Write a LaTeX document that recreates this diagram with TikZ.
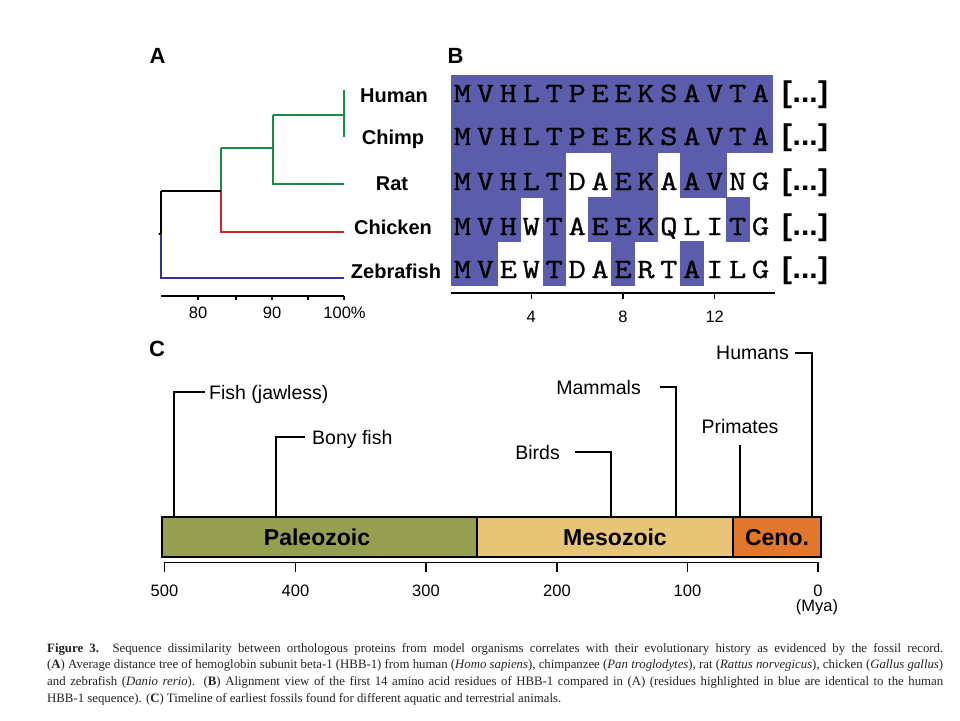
\documentclass[tikz,border=0pt]{standalone}
\usepackage{fontspec}
\setmainfont{Liberation Serif}
\setsansfont{Liberation Sans}
\newfontfamily\seqfont[FakeBold=0.9]{Latin Modern Mono}
\definecolor{alnblue}{RGB}{92,92,172}
\definecolor{treegreen}{RGB}{25,138,70}
\definecolor{treered}{RGB}{205,40,40}
\definecolor{treeblue}{RGB}{50,50,155}
\definecolor{paleo}{RGB}{150,158,80}
\definecolor{meso}{RGB}{232,196,118}
\definecolor{ceno}{RGB}{225,118,45}
\definecolor{captext}{RGB}{35,35,35}
\begin{document}
\begin{tikzpicture}[x=1pt,y=-1pt,
  panellabel/.style={font=\sffamily\bfseries\fontsize{22}{22}\selectfont, inner sep=0pt, anchor=base},
  taxon/.style={font=\sffamily\bfseries\fontsize{20}{20}\selectfont, inner sep=0pt, anchor=base},
  era/.style={font=\sffamily\bfseries\fontsize{23}{23}\selectfont, inner sep=0pt, anchor=base},
  event/.style={font=\sffamily\fontsize{19.5}{20}\selectfont, inner sep=0pt},
  ticklabel/.style={font=\sffamily\fontsize{16.5}{17}\selectfont, inner sep=0pt, anchor=base},
  aa/.style={font=\seqfont\fontsize{28}{28}\selectfont, inner sep=0pt, anchor=base},
  dots/.style={font=\sffamily\bfseries\fontsize{30}{30}\selectfont, inner sep=0pt, anchor=base west},
  captionline/.style={font=\fontsize{12.8}{15}\selectfont, text=captext, inner sep=0pt, anchor=base west},
  branch/.style={line width=2pt},
  axisline/.style={line width=1.8pt, black},
  tline/.style={line width=2.4pt, black},
  cell/.style={fill=alnblue, draw=alnblue, line width=0.4pt},
]
\useasboundingbox (0,0) rectangle (960,720);
\fill[white] (0,0) rectangle (960,720);

% ---------------- Panel labels
\node[panellabel] (labA) at (157.5,63) {A};
\node[panellabel] (labB) at (455.5,63) {B};
\node[panellabel] (labC) at (157,356) {C};

% ---------------- Panel A: tree
\coordinate (hcTop) at (344,90);
\coordinate (hcBot) at (344,137);
\coordinate (hc) at (344,115);
\coordinate (nA) at (273,115);
\coordinate (nAmid) at (273,148);
\coordinate (nAbot) at (273,184);
\coordinate (rat) at (344,184);
\coordinate (nB) at (221,148);
\coordinate (nBmid) at (221,191);
\coordinate (nBbot) at (221,232);
\coordinate (chick) at (344,232);
\coordinate (root) at (161,191);
\coordinate (rootmid) at (161,234);
\coordinate (rootbot) at (161,278);
\coordinate (zebra) at (344,278);

\draw[branch, treegreen] (hcTop) -- (hcBot);
\draw[branch, treegreen] (nA) -- (hc);
\draw[branch, treegreen] (nA) -- (nAbot) -- (rat);
\draw[branch, treegreen] (nB) -- (nAmid);
\draw[branch, treegreen] (nB) -- (nBmid);
\draw[branch, treered] (nBmid) -- (nBbot) -- (chick);
\draw[branch, black] (root) -- (nBmid);
\draw[branch, black] (root) -- (rootmid);
\draw[branch, treeblue] (rootmid) -- (rootbot) -- (zebra);
\fill[black] (rootmid) ++(-1.5,0) circle (1.2pt);

% axis A
\coordinate (axAl) at (161,296);
\coordinate (axAr) at (344,296);
\draw[axisline] (axAl) -- (axAr);
\foreach \xx/\nm in {198/a,236/b,272/c,308/d,344/e}{
  \coordinate (tA\nm) at (\xx,296);
  \draw[axisline, line width=1.3pt] (tA\nm) -- ++(0,4);
}
\node[ticklabel] (tl80) at (198,318) {80};
\node[ticklabel] (tl90) at (272,318) {90};
\node[ticklabel] (tl100) at (344.5,318) {100\%};

% taxa
\node[taxon] (tHuman) at (394,102) {Human};
\node[taxon] (tChimp) at (393,144.5) {Chimp};
\node[taxon] (tRat) at (392,190) {Rat};
\node[taxon] (tChicken) at (393,234.5) {Chicken};
\node[taxon] (tZebra) at (396,278) {Zebrafish};

% ---------------- Panel B: alignment
\def\xo{451}
\def\cw{22.93}
% rows 1-2 full
\fill[cell] (\xo,75) rectangle (\xo+14*\cw,152.3);
% row 3 (152-197)
\foreach \a/\b in {1/5,8/9,11/12}{
  \fill[cell] (\xo+\a*\cw-\cw,151.7) rectangle (\xo+\b*\cw,197.3);
}
% row 4 (197-241)
\foreach \a/\b in {1/3,5/5,7/9,13/13}{
  \fill[cell] (\xo+\a*\cw-\cw,196.7) rectangle (\xo+\b*\cw,241.3);
}
% row 5 (241-285)
\foreach \a/\b in {1/2,5/5,8/8,11/11}{
  \fill[cell] (\xo+\a*\cw-\cw,240.7) rectangle (\xo+\b*\cw,285);
}

\foreach \seq/\yb/\r in {{M,V,H,L,T,P,E,E,K,S,A,V,T,A}/102/1,
                          {M,V,H,L,T,P,E,E,K,S,A,V,T,A}/145/2,
                          {M,V,H,L,T,D,A,E,K,A,A,V,N,G}/190/3,
                          {M,V,H,W,T,A,E,E,K,Q,L,I,T,G}/235/4,
                          {M,V,E,W,T,D,A,E,R,T,A,I,L,G}/278/5}{
  \foreach \ch [count=\c] in \seq {
    \node[aa] (r\r c\c) at (\xo+\c*\cw-0.5*\cw,\yb) {\scalebox{1.2}[1]{\ch}};
  }
  \node[dots] (dots\r) at (782,\yb) {[\kern0.5pt...\kern0.5pt]};
}

% axis B
\coordinate (axBl) at (451,293);
\coordinate (axBr) at (775,293);
\draw[axisline] (axBl) -- (axBr);
\foreach \c in {4,8,12}{
  \coordinate (tB\c) at (\xo+\c*\cw-0.5*\cw,293);
  \draw[axisline, line width=1.3pt] (tB\c) -- ++(0,6);
  \node[ticklabel] (tlB\c) at (\xo+\c*\cw-0.5*\cw,322) {\c};
}

% ---------------- Panel C: timeline
\coordinate (barTL) at (162,516.5);
\coordinate (pm) at (477,516.5);
\coordinate (pmB) at (477,557);
\coordinate (mc) at (733,516.5);
\coordinate (mcB) at (733,557);
\coordinate (barBR) at (821,557);
\fill[paleo] (barTL) rectangle (pmB);
\fill[meso] (pm) rectangle (mcB);
\fill[ceno] (mc) rectangle (barBR);
\draw[line width=2pt] (barTL) rectangle (barBR);
\draw[line width=2pt] (pm) -- (pmB);
\draw[line width=2pt] (mc) -- (mcB);

\node[era] (ePaleo) at (317,545) {Paleozoic};
\node[era] (eMeso) at (615,545) {Mesozoic};
\node[era] (eCeno) at (777,545) {Ceno.};

% axis C
\coordinate (axCl) at (164,562.5);
\coordinate (axCr) at (819,562.5);
\draw[axisline] (axCl) -- (axCr);
\foreach \xx/\lab in {164.5/500,295.5/400,426/300,557/200,687.5/100,818/0}{
  \coordinate (tC\lab) at (\xx,562.5);
  \draw[axisline, line width=1.6pt] (tC\lab) -- ++(0,9);
  \node[ticklabel] (tlC\lab) at (\xx,596) {\lab};
}
\node[ticklabel] (mya) at (817,611.5) {(Mya)};

% events
\coordinate (fishB) at (174,516.5);
\coordinate (fishT) at (174,392);
\coordinate (fishE) at (205,392);
\draw[tline] (fishB) -- (fishT) -- (fishE);
\node[event, anchor=base west] (evFish) at (209,399) {Fish (jawless)};

\coordinate (bonyB) at (276,516.5);
\coordinate (bonyT) at (276,437);
\coordinate (bonyE) at (305,437);
\draw[tline] (bonyB) -- (bonyT) -- (bonyE);
\node[event, anchor=base west] (evBony) at (312,444) {Bony fish};

\coordinate (birdB) at (611,516.5);
\coordinate (birdT) at (611,452);
\coordinate (birdE) at (575,452);
\draw[tline] (birdB) -- (birdT) -- (birdE);
\node[event, anchor=base east] (evBirds) at (560,459) {Birds};

\coordinate (mamB) at (676,516.5);
\coordinate (mamT) at (676,387);
\coordinate (mamE) at (660,387);
\draw[tline] (mamB) -- (mamT) -- (mamE);
\node[event, anchor=base east] (evMam) at (641,394) {Mammals};

\coordinate (priB) at (740,516.5);
\coordinate (priT) at (740,445);
\draw[tline] (priB) -- (priT);
\node[event, anchor=base] (evPri) at (740,433) {Primates};

\coordinate (humB) at (812,516.5);
\coordinate (humT) at (812,353);
\coordinate (humE) at (795,353);
\draw[tline] (humB) -- (humT) -- (humE);
\node[event, anchor=base east] (evHum) at (789,359) {Humans};

% ---------------- Caption
\node[captionline] (cap1) at (47,652) {\makebox[896pt][s]{\textbf{Figure 3.} Sequence dissimilarity between orthologous proteins from model organisms correlates with their evolutionary history as evidenced by the fossil record.}};
\node[captionline] (cap2) at (47,668.8) {\makebox[896pt][s]{(\textbf{A}) Average distance tree of hemoglobin subunit beta-1 (HBB-1) from human (\textit{Homo sapiens}), chimpanzee (\textit{Pan troglodytes}), rat (\textit{Rattus norvegicus}), chicken (\textit{Gallus gallus})}};
\node[captionline] (cap3) at (47,685.6) {\makebox[896pt][s]{and zebrafish (\textit{Danio rerio}). (\textbf{B}) Alignment view of the first 14 amino acid residues of HBB-1 compared in (A) (residues highlighted in blue are identical to the human}};
\node[captionline] (cap4) at (47,702.4) {HBB-1 sequence). (\textbf{C}) Timeline of earliest fossils found for different aquatic and terrestrial animals.};
\end{tikzpicture}
\end{document}
